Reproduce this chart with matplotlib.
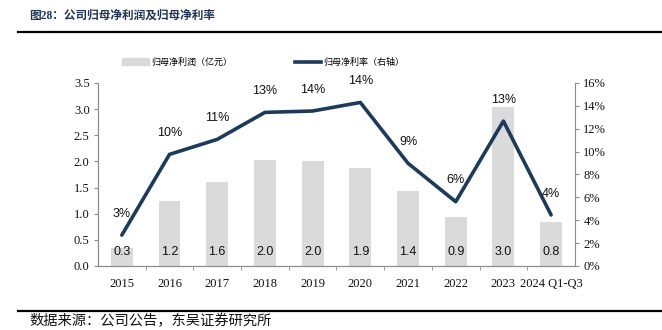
import matplotlib.pyplot as plt
from matplotlib.lines import Line2D
import matplotlib.patches as mpatches

plt.rcParams['font.family'] = ['Noto Sans CJK SC', 'DejaVu Sans']

# Data
years = ['2015', '2016', '2017', '2018', '2019', '2020', '2021', '2022', '2023', '2024 Q1-Q3']
profit = [0.34, 1.24, 1.61, 2.03, 2.00, 1.87, 1.44, 0.94, 3.04, 0.84]       # 亿元
margin = [2.7, 9.76, 11.07, 13.43, 13.55, 14.3, 8.98, 5.62, 12.67, 4.46]    # %

BAR_COLOR = '#dadada'
LINE_COLOR = '#1b3a5c'
SPINE_COLOR = '#8c8c8c'
SERIF = ['Liberation Serif', 'Noto Sans CJK SC']

fig = plt.figure(figsize=(6.62, 3.3), dpi=100)
ax = fig.add_axes([0.148, 0.194, 0.7205, 0.5545])
ax2 = ax.twinx()

x = list(range(len(years)))
ax.bar(x, profit, width=0.46, color=BAR_COLOR, zorder=1)
ax2.plot(x, margin, color=LINE_COLOR, lw=2.6, solid_capstyle='round', zorder=3)

# value labels: bars near the bottom, margins above the line points
for xi, v in zip(x, profit):
    ax.text(xi, 0.27, f'{v:.1f}', ha='center', va='center', fontsize=9,
            family=['Liberation Sans'], color='#111111', zorder=4)
for xi, m in zip(x, margin):
    ax2.annotate(f'{m:.0f}%', (xi, m), xytext=(0, 11), textcoords='offset points',
                 ha='center', va='bottom', fontsize=9, family=['Liberation Sans'],
                 color='#111111', zorder=5)

ax.set_xlim(-0.5, len(years) - 0.5)
ax.set_ylim(0, 3.5)
ax.set_yticks([i * 0.5 for i in range(8)])
ax.set_yticklabels([f'{i * 0.5:.1f}' for i in range(8)])
ax2.set_ylim(0, 16)
ax2.set_yticks(range(0, 17, 2))
ax2.set_yticklabels([f'{t}%' for t in range(0, 17, 2)])

ax.set_xticks(x)
ax.set_xticklabels(years)
ax.set_xticks([i + 0.5 for i in range(len(years) - 1)], minor=True)
ax.tick_params(axis='x', which='major', length=0, pad=9)
ax.tick_params(axis='x', which='minor', length=3, color=SPINE_COLOR)
ax.tick_params(axis='y', length=3, color=SPINE_COLOR, pad=3)
ax2.tick_params(axis='y', length=3, color=SPINE_COLOR, pad=3)

for a in (ax, ax2):
    for lbl in a.get_xticklabels() + a.get_yticklabels():
        lbl.set_family(SERIF)
        lbl.set_fontsize(9)
        lbl.set_color('#111111')
    a.spines['top'].set_visible(False)
    for s in ('left', 'right', 'bottom'):
        a.spines[s].set_color(SPINE_COLOR)
        a.spines[s].set_linewidth(0.8)
ax.spines['right'].set_visible(False)

# legend
handles = [mpatches.Patch(color=BAR_COLOR, label='归母净利润（亿元）'),
           Line2D([], [], color=LINE_COLOR, lw=2.6, label='归母净利率（右轴）')]
fig.legend(handles=handles, loc='center', bbox_to_anchor=(0.398, 0.812), ncol=2,
           frameon=False, handlelength=2.9, handletextpad=0.25,
           columnspacing=7.0, prop={'family': 'Noto Sans CJK SC', 'size': 6.5})

# title, rules and source note
fig.text(0.044, 0.951, '图28：公司归母净利润及归母净利率', fontsize=8.4, fontweight='bold',
         color='#1f3354', family=SERIF, va='center', ha='left')
fig.add_artist(Line2D([0.027, 1.0], [0.904, 0.904], color='black', lw=1.6))
fig.add_artist(Line2D([0.027, 1.0], [0.058, 0.058], color='black', lw=1.6))
fig.text(0.044, 0.027, '数据来源：公司公告，东吴证券研究所', fontsize=10.3,
         color='#111111', va='center', ha='left')

fig.savefig('out.png', dpi=100, facecolor='white')
